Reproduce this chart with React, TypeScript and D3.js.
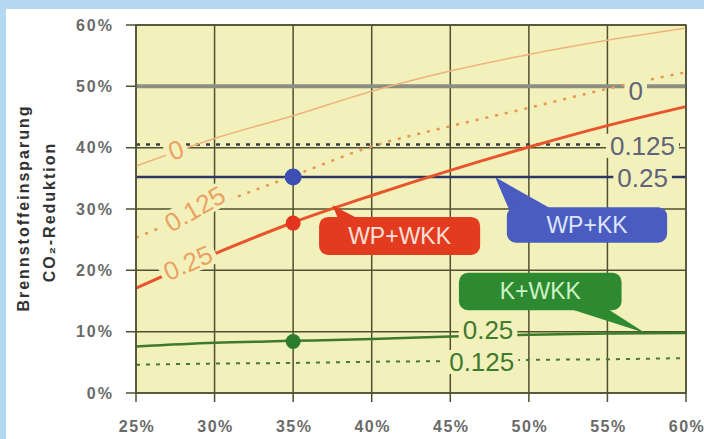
import React from 'react';
import * as d3 from 'd3';

// x: Wirkungsgrad (%), y: Brennstoffeinsparung / CO2-Reduktion (%)
const xValues = [25, 30, 35, 40, 45, 50, 55, 60];
const xTicks = [25, 30, 35, 40, 45, 50, 55, 60];
const yTicks = [0, 10, 20, 30, 40, 50, 60];

// WP+WKK (orange / red)
const wpWkk0 = [37, 41.5, 45.2, 49.2, 52.5, 55.2, 57.5, 59.5];
const wpWkk0125 = [25.3, 30.6, 35.4, 40.2, 43.5, 46.5, 49.6, 52.3];
const wpWkk025 = [17.1, 22.7, 27.8, 32.2, 36.3, 40.1, 43.6, 46.7];

// WP+KK (blue) - flat
const wpKk0 = [50, 50, 50, 50, 50, 50, 50, 50];
const wpKk0125 = [40.5, 40.5, 40.5, 40.5, 40.5, 40.5, 40.5, 40.5];
const wpKk025 = [35.2, 35.2, 35.2, 35.2, 35.2, 35.2, 35.2, 35.2];

// K+WKK (green)
const kWkk025 = [7.6, 8.2, 8.5, 8.8, 9.2, 9.5, 9.7, 9.8];
const kWkk0125 = [4.6, 4.8, 4.9, 5.1, 5.2, 5.4, 5.5, 5.7];

// marked points at 35 %
const pointX = 35;
const pointValues = [35.2, 27.7, 8.4];

const width = 704;
const height = 439;
const margin = { top: 25, right: 18, bottom: 46, left: 136 };
const plotBg = '#f3f1bb';
const gridColor = '#4f5030';

const x = d3.scaleLinear().domain([25, 60]).range([margin.left, width - margin.right]);
const y = d3.scaleLinear().domain([0, 60]).range([height - margin.bottom, margin.top]);

const line = d3
  .line<number>()
  .x((_, i) => x(xValues[i]))
  .y((d) => y(d))
  .curve(d3.curveMonotoneX);

const series = [
  { values: wpKk0, color: '#8c8e80', width: 4, dash: '' },
  { values: wpKk0125, color: '#3a3c4c', width: 2.5, dash: '4,6' },
  { values: wpKk025, color: '#2e3868', width: 2.5, dash: '' },
  { values: wpWkk0, color: '#f0b27a', width: 1.5, dash: '' },
  { values: wpWkk0125, color: '#e8954e', width: 2.5, dash: '3,7' },
  { values: wpWkk025, color: '#e8542c', width: 3, dash: '' },
  { values: kWkk025, color: '#3d7a2c', width: 2.5, dash: '' },
  { values: kWkk0125, color: '#4a7a34', width: 2, dash: '4,6' },
];

const pointColors = ['#3d4fb2', '#e2341f', '#2b7d2d'];
const pointRadii = [8.5, 7.5, 7.5];

const lineLabels = [
  { text: '0', x: 27.55, y: 39.6, angle: -20, color: '#eaa263', anchor: 'middle' },
  { text: '0.125', x: 28.75, y: 30.0, angle: -30, color: '#eaa263', anchor: 'middle' },
  { text: '0.25', x: 28.3, y: 21.2, angle: -24, color: '#eaa263', anchor: 'middle' },
  { text: '0', x: 56.8, y: 49.2, angle: 0, color: '#5f6478', anchor: 'middle' },
  { text: '0.125', x: 59.3, y: 40.3, angle: 0, color: '#5f6478', anchor: 'end' },
  { text: '0.25', x: 58.85, y: 35.1, angle: 0, color: '#5f6478', anchor: 'end' },
  { text: '0.25', x: 47.4, y: 10.3, angle: 0, color: '#3f7a2f', anchor: 'middle' },
  { text: '0.125', x: 47.0, y: 5.05, angle: 0, color: '#3f7a2f', anchor: 'middle' },
];

const callouts = [
  {
    text: 'WP+WKK', x0: 36.65, x1: 46.9, y0: 22.5, y1: 28.7,
    fill: '#e23b1f', textColor: '#fbe0d8',
    pointer: [[37.5, 30.6], [37.9, 28.2], [39.3, 28.2]],
  },
  {
    text: 'WP+KK', x0: 48.6, x1: 58.8, y0: 24.5, y1: 30.3,
    fill: '#4a5cc0', textColor: '#dfe4ff',
    pointer: [[47.85, 35.2], [48.74, 29.9], [51.5, 29.9]],
  },
  {
    text: 'K+WKK', x0: 45.55, x1: 55.9, y0: 13.5, y1: 19.6,
    fill: '#2e8a30', textColor: '#cdf3c6',
    pointer: [[57.4, 9.8], [52.3, 14.0], [54.85, 14.0]],
  },
];

const font = '"Liberation Sans", Arial, sans-serif';
const labelSize = 26;

// rough Arial advance widths, used for the gaps behind the labels
const textWidth = (s: string, size: number) =>
  s.split('').reduce((w, ch) => w + (ch === '.' ? 0.278 : 0.556), 0) * size;

const App: React.FC = () => {
  const [yMin, yMax] = y.range();
  return (
    <svg
      width={width}
      height={height}
      style={{ position: 'absolute', left: 0, top: 0, background: '#ffffff' }}
      fontFamily={font}
    >
      {/* frame */}
      <rect x={0} y={0} width={width} height={9} fill="#b5d8f2" />
      <rect x={0} y={0} width={6} height={height} fill="#b5d8f2" />

      {/* plot background */}
      <rect
        x={x(25)}
        y={yMax}
        width={x(60) - x(25)}
        height={yMin - yMax}
        fill={plotBg}
      />

      {/* grid */}
      {xTicks.map((t) => (
        <line key={'gx' + t} x1={x(t)} x2={x(t)} y1={yMax} y2={yMin + 9} stroke={gridColor} strokeWidth={1.5} />
      ))}
      {yTicks.map((t) => (
        <line key={'gy' + t} x1={x(25) - 10} x2={x(60)} y1={y(t)} y2={y(t)} stroke={gridColor} strokeWidth={1.5} />
      ))}

      {/* series */}
      {series.map((s, i) => (
        <path
          key={'s' + i}
          d={line(s.values) || ''}
          fill="none"
          stroke={s.color}
          strokeWidth={s.width}
          strokeDasharray={s.dash || undefined}
        />
      ))}

      {/* line labels with a background patch that breaks the lines */}
      {lineLabels.map((l, i) => {
        const px = x(l.x);
        const py = y(l.y);
        const w = textWidth(l.text, labelSize) + 8;
        const left = l.anchor === 'end' ? -w + 4 : l.anchor === 'start' ? -4 : -w / 2;
        return (
          <g key={'l' + i} transform={`translate(${px},${py}) rotate(${l.angle})`}>
            <rect x={left} y={-12} width={w} height={24} fill={plotBg} />
            <text
              x={0}
              y={0}
              textAnchor={l.anchor}
              dominantBaseline="central"
              fontSize={labelSize}
              fill={l.color}
            >
              {l.text}
            </text>
          </g>
        );
      })}

      {/* points */}
      {pointValues.map((v, i) => (
        <circle key={'p' + i} cx={x(pointX)} cy={y(v)} r={pointRadii[i]} fill={pointColors[i]} />
      ))}

      {/* callouts */}
      {callouts.map((c, i) => (
        <g key={'c' + i}>
          <polygon points={c.pointer.map((p) => `${x(p[0])},${y(p[1])}`).join(' ')} fill={c.fill} />
          <rect
            x={x(c.x0)}
            y={y(c.y1)}
            width={x(c.x1) - x(c.x0)}
            height={y(c.y0) - y(c.y1)}
            rx={9}
            fill={c.fill}
          />
          <text
            x={(x(c.x0) + x(c.x1)) / 2}
            y={(y(c.y0) + y(c.y1)) / 2}
            textAnchor="middle"
            dominantBaseline="central"
            fontSize={23}
            fill={c.textColor}
          >
            {c.text}
          </text>
        </g>
      ))}

      {/* plot border */}
      <rect
        x={x(25)}
        y={yMax}
        width={x(60) - x(25)}
        height={yMin - yMax}
        fill="none"
        stroke={gridColor}
        strokeWidth={1.5}
      />

      {/* tick labels */}
      {yTicks.map((t) => (
        <text
          key={'ty' + t}
          x={x(25) - 22}
          y={y(t)}
          textAnchor="end"
          dominantBaseline="central"
          fontSize={16}
          fontWeight="bold"
          letterSpacing={2}
          fill="#6a6a6a"
        >
          {t}%
        </text>
      ))}
      {xTicks.map((t) => (
        <text
          key={'tx' + t}
          x={x(t) + 1}
          y={yMin + 39}
          textAnchor="middle"
          fontSize={16}
          fontWeight="bold"
          letterSpacing={1.5}
          fill="#6a6a6a"
        >
          {t}%
        </text>
      ))}

      {/* y axis title */}
      <text
        transform="translate(29,208) rotate(-90)"
        textAnchor="middle"
        fontSize={16}
        fontWeight="bold"
        letterSpacing={2}
        fill="#333333"
      >
        Brennstoffeinsparung
      </text>
      <text
        transform="translate(55,212) rotate(-90)"
        textAnchor="middle"
        fontSize={16}
        fontWeight="bold"
        letterSpacing={2}
        fill="#333333"
      >
        CO₂-Reduktion
      </text>
    </svg>
  );
};

export default App;
